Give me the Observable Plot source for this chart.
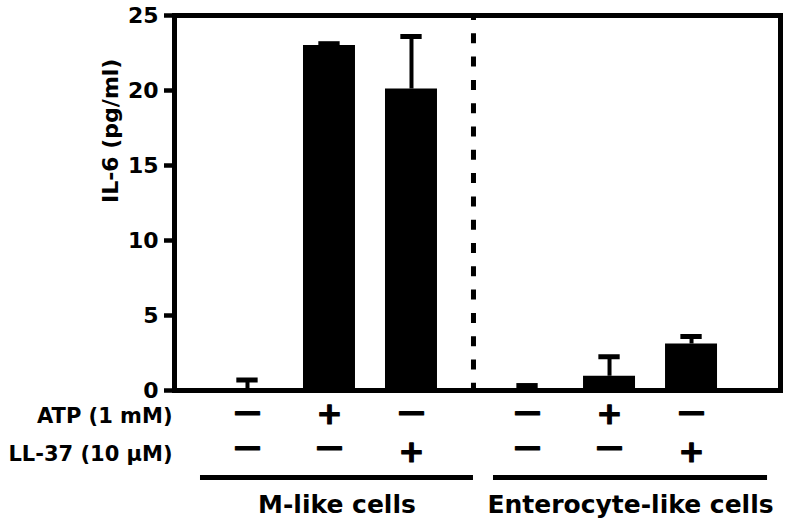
<!DOCTYPE html>
<html><head><meta charset="utf-8">
<script src="https://cdn.jsdelivr.net/npm/d3@7"></script>
<script src="https://cdn.jsdelivr.net/npm/@observablehq/plot@0.6"></script>
<style>body{margin:0;background:#fff} svg{display:block}</style>
</head><body><div id="chart"></div>
<script>
// ---- data ----
const groups = ["M-like cells", "Enterocyte-like cells"];
const groupOf = [0, 0, 0, 1, 1, 1];
const atp  = ["—", "+", "—", "—", "+", "—"];
const ll37 = ["—", "—", "+", "—", "—", "+"];
const il6  = [0.0, 23.0, 20.1, 0.05, 0.95, 3.1];
const sem  = [0.7, 0.12, 3.5, 0.28, 1.3, 0.5];
const yTicks = [0, 5, 10, 15, 20, 25];
const rowLabels = ["ATP (1 mM)", "LL-37 (10 μM)"];
const yLabel = "IL-6 (pg/ml)";

// ---- layout ----
const groupStep = 3.415;   // slot units between group starts
const barHalf = 0.317, capHalf = 0.13;
const slotCount = [0, 0];
const rows = il6.map((v, i) => {
  const g = groupOf[i];
  const pos = g * groupStep + slotCount[g]++;
  return {pos, v, e: sem[i], atp: atp[i], ll: ll37[i], g};
});
const groupLines = groups.map((name, g) => {
  const ps = rows.filter(r => r.g === g).map(r => r.pos);
  const x1 = g === 0 ? ps[0] - 0.573 : ps[0] - 0.415;
  const x2 = g === 0 ? ps[2] + 0.756 : ps[2] + 0.927;
  return {name, x1, x2, mid: (x1 + x2) / 2};
});
const divider = 2.756;

const font = "DejaVu Sans";
const txt = {fontWeight: "bold", lineAnchor: "middle"};
const sign = {...txt, stroke: "black", strokeWidth: 1.2, fill: "black"};
const chart = Plot.plot({
  width: 791, height: 524,
  marginLeft: 174, marginRight: 11, marginTop: 15, marginBottom: 134,
  style: {fontFamily: font, fontWeight: "bold", background: "white", color: "black"},
  x: {domain: [-0.89, 6.5], axis: null},
  y: {domain: [0, 25], axis: null},
  marks: [
    Plot.rect(rows, {x1: d => d.pos - barHalf, x2: d => d.pos + barHalf, y1: 0, y2: "v", fill: "black"}),
    Plot.ruleX(rows, {x: "pos", y1: "v", y2: d => d.v + d.e, stroke: "black", strokeWidth: 4}),
    Plot.ruleY(rows, {y: d => d.v + d.e, x1: d => d.pos - capHalf, x2: d => d.pos + capHalf, stroke: "black", strokeWidth: 5}),
    Plot.ruleX([divider], {stroke: "black", strokeWidth: 5, strokeDasharray: "10,13.3", strokeDashoffset: 5}),
    Plot.frame({stroke: "black", strokeWidth: 5}),
    Plot.axisY(yTicks, {tickSize: 10, tickPadding: 6, strokeWidth: 4.5, fontSize: 22, fontWeight: "bold", label: null}),
    Plot.text([yLabel], {...txt, frameAnchor: "left", rotate: -90, dx: -64, fontSize: 22}),
    // sign rows
    Plot.text(rows.filter(r => r.atp !== "+"), {...sign, x: "pos", text: "atp", frameAnchor: "bottom", dy: 22, fontSize: 27}),
    Plot.text(rows.filter(r => r.atp === "+"), {...sign, x: "pos", text: "atp", frameAnchor: "bottom", dy: 24, fontSize: 31}),
    Plot.text(rows.filter(r => r.ll !== "+"), {...sign, x: "pos", text: "ll", frameAnchor: "bottom", dy: 57, fontSize: 27}),
    Plot.text(rows.filter(r => r.ll === "+"), {...sign, x: "pos", text: "ll", frameAnchor: "bottom", dy: 62, fontSize: 31}),
    Plot.text([rowLabels[0]], {...txt, frameAnchor: "bottom-left", textAnchor: "end", dx: -2, dy: 26, fontSize: 21}),
    Plot.text([rowLabels[1]], {...txt, frameAnchor: "bottom-left", textAnchor: "end", dx: -2, dy: 64, fontSize: 21}),
    // group lines and labels
    Plot.ruleY(groupLines, {y: 0, x1: "x1", x2: "x2", dy: 87, stroke: "black", strokeWidth: 5}),
    Plot.text(groupLines, {...txt, x: "mid", y: 0, text: "name", dy: 114, fontSize: 25})
  ]
});
document.getElementById("chart").append(chart);
</script>
</body></html>
